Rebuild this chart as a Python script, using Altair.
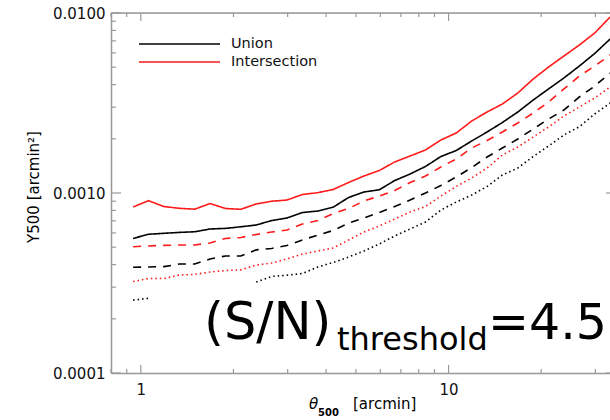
import altair as alt
import pandas as pd

# ---------------- data ----------------
theta = [0.944, 1.059, 1.189, 1.334, 1.496, 1.679, 1.884, 2.113, 2.371, 2.661,
         2.985, 3.350, 3.758, 4.217, 4.732, 5.309, 5.957, 6.683, 7.499, 8.414,
         9.441, 10.59, 11.89, 13.34, 14.96, 16.79, 18.84, 21.13, 23.71, 26.61,
         29.85, 33.50]

union_solid = [0.000559, 0.000590, 0.000597, 0.000604, 0.000609, 0.000631, 0.000636, 0.000649,
               0.000664, 0.000703, 0.000726, 0.000779, 0.000794, 0.000834, 0.000944, 0.001013,
               0.001042, 0.001173, 0.001275, 0.001404, 0.001595, 0.001722, 0.001945, 0.002183,
               0.002465, 0.002818, 0.003286, 0.003784, 0.004356, 0.005077, 0.005957, 0.007172]

inter_solid = [0.000836, 0.000906, 0.000841, 0.000822, 0.000813, 0.000874, 0.000820, 0.000812,
               0.000869, 0.000900, 0.000914, 0.000981, 0.001004, 0.001046, 0.001144, 0.001243,
               0.001334, 0.001487, 0.001605, 0.001734, 0.001970, 0.002154, 0.002512, 0.002818,
               0.003122, 0.003594, 0.004299, 0.005012, 0.005770, 0.006640, 0.007743, 0.009502]

inter_dashed = [0.000503, 0.000508, 0.000512, 0.000514, 0.000514, 0.000528, 0.000559, 0.000566,
                0.000588, 0.000607, 0.000623, 0.000673, 0.000703, 0.000769, 0.000820, 0.000903,
                0.000962, 0.001032, 0.001144, 0.001243, 0.001395, 0.001545, 0.001778, 0.001957,
                0.002183, 0.002448, 0.002783, 0.003203, 0.003784, 0.004467, 0.005077, 0.005843]

union_dashed = [0.000387, 0.000388, 0.000390, 0.000403, 0.000403, 0.000430, 0.000447, 0.000447,
                0.000483, 0.000492, 0.000511, 0.000548, 0.000584, 0.000619, 0.000681, 0.000726,
                0.000779, 0.000841, 0.000914, 0.001000, 0.001101, 0.001227, 0.001385, 0.001585,
                0.001778, 0.001995, 0.002268, 0.002577, 0.002892, 0.003415, 0.003930, 0.004642]

inter_dotted = [0.000322, 0.000335, 0.000335, 0.000350, 0.000353, 0.000364, 0.000371, 0.000374,
                0.000398, 0.000408, 0.000430, 0.000458, 0.000476, 0.000495, 0.000548, 0.000607,
                0.000656, 0.000717, 0.000784, 0.000841, 0.000962, 0.001087, 0.001212, 0.001377,
                0.001626, 0.001801, 0.002047, 0.002326, 0.002677, 0.003005, 0.003373, 0.003881]

union_dotted = [0.000254, 0.000260, None, None, None, None, None, None,
                0.000320, 0.000344, 0.000349, 0.000357, 0.000388, 0.000411, 0.000441, 0.000476,
                0.000521, 0.000577, 0.000631, 0.000690, 0.000804, 0.000891, 0.000975, 0.001087,
                0.001259, 0.001377, 0.001595, 0.001824, 0.002100, 0.002335, 0.002747, 0.003162]

series_names = ["Union", "Intersection", "Union dashed", "Intersection dashed",
                "Union dotted", "Intersection dotted"]
series_values = [union_solid, inter_solid, union_dashed, inter_dashed, union_dotted, inter_dotted]
series_colors = ["#000000", "#ff1a1a", "#000000", "#ff1a1a", "#000000", "#ff1a1a"]
series_dashes = [[1, 0], [1, 0], [8, 7], [8, 7], [1.5, 3], [1.5, 3]]

legend_labels = ["Union", "Intersection"]
legend_colors = ["#000000", "#ff1a1a"]

x_major = [1, 10]
x_minor = [0.8, 0.9, 2, 3, 4, 5, 6, 7, 8, 9, 20, 30]
y_major = [0.0001, 0.001, 0.01]
y_minor = [0.0002, 0.0003, 0.0004, 0.0005, 0.0006, 0.0007, 0.0008, 0.0009,
           0.002, 0.003, 0.004, 0.005, 0.006, 0.007, 0.008, 0.009]

# ---------------- build long table, breaking paths at gaps ----------------
rows = []
for name, vals in zip(series_names, series_values):
    seg = 0
    prev_none = False
    for t, v in zip(theta, vals):
        if v is None:
            prev_none = True
            continue
        if prev_none:
            seg += 1
            prev_none = False
        rows.append({"theta": t, "y": v, "series": name, "seg": f"{name}-{seg}"})
df = pd.DataFrame(rows)

W, H = 499, 360
FONT = "DejaVu Sans"
AX = "#999999"

xscale = alt.Scale(type="log", domain=[0.8, 35], range=[0, 505])
yscale = alt.Scale(type="log", domain=[0.0001, 0.01])

lines = alt.Chart(df).mark_line(strokeWidth=1.6, clip=True).encode(
    x=alt.X("theta:Q", scale=xscale,
            axis=alt.Axis(values=x_major, format=".0f", title=None, grid=False, ticks=False,
                          tickSize=0, labelPadding=9, labelFont=FONT, labelFontSize=15,
                          labelColor="#111111", domainColor=AX, domainWidth=1.5)),
    y=alt.Y("y:Q", scale=yscale,
            axis=alt.Axis(values=y_major, format=".4f", title=None, grid=False, ticks=False,
                          tickSize=0, labelPadding=6, labelFont=FONT, labelFontSize=15,
                          labelColor="#111111", domainColor=AX, domainWidth=1.5)),
    color=alt.Color("series:N", scale=alt.Scale(domain=series_names, range=series_colors), legend=None),
    strokeDash=alt.StrokeDash("series:N", scale=alt.Scale(domain=series_names, range=series_dashes),
                              legend=None),
    detail="seg:N",
)

def xticks(vals, y0, y1):
    return alt.Chart(pd.DataFrame({"theta": vals})).mark_rule(color=AX, strokeWidth=1.2).encode(
        x=alt.X("theta:Q", scale=xscale), y=alt.value(y0), y2=alt.value(y1))

def yticks(vals, x0, x1):
    return alt.Chart(pd.DataFrame({"y": vals})).mark_rule(color=AX, strokeWidth=1.2).encode(
        y=alt.Y("y:Q", scale=yscale), x=alt.value(x0), x2=alt.value(x1))

ticks = [
    xticks(x_major, H, H - 8), xticks(x_minor, H, H - 4),
    xticks(x_major, 0, 8), xticks(x_minor, 0, 4),
    yticks(y_major, 0, 10), yticks(y_minor, 0, 5),
    yticks(y_major, 495, 505), yticks(y_minor, 500, 505),
]

top_line = alt.Chart(pd.DataFrame({"a": [0]})).mark_rule(color=AX, strokeWidth=1.5).encode(
    x=alt.value(0), x2=alt.value(505), y=alt.value(0))

leg_df = pd.DataFrame({"label": legend_labels, "color": legend_colors, "ypos": [31, 49]})
leg_lines = alt.Chart(leg_df).mark_rule(strokeWidth=1.6).encode(
    x=alt.value(28), x2=alt.value(109), y=alt.Y("ypos:Q", scale=None),
    color=alt.Color("color:N", scale=None))
leg_text = alt.Chart(leg_df).mark_text(align="left", baseline="middle", font=FONT, fontSize=14.5,
                                       color="#111111").encode(
    x=alt.value(120), y=alt.Y("ypos:Q", scale=None), text="label:N")

def label(txt, x, y, size, **kw):
    return alt.Chart(pd.DataFrame({"t": [txt]})).mark_text(
        align=kw.pop("align", "left"), baseline="alphabetic", font=FONT, fontSize=size,
        color="#000000", **kw).encode(x=alt.value(x), y=alt.value(y), text="t:N")

annot = [
    label("(S/N)", 93, 326, 51),
    label("threshold", 226, 337, 32),
    label("=4.5", 377, 326, 49),
    label("θ", 198, 396, 15, fontStyle="italic"),
    label("500", 207, 403, 10, fontWeight="bold"),
    label("[arcmin]", 242, 396, 15),
    label("Y500  [arcmin²]", -72, 174, 15, align="center", angle=270),
]

chart = alt.layer(lines, *ticks, top_line, leg_lines, leg_text, *annot).properties(
    width=W, height=H,
    autosize=alt.AutoSizeParams(type="none"),
    padding={"left": 111, "top": 13, "right": 0, "bottom": 47},
).configure_view(stroke=None).configure(background="white")

chart.save("out.html", embed_options={"renderer": "svg", "actions": False})
